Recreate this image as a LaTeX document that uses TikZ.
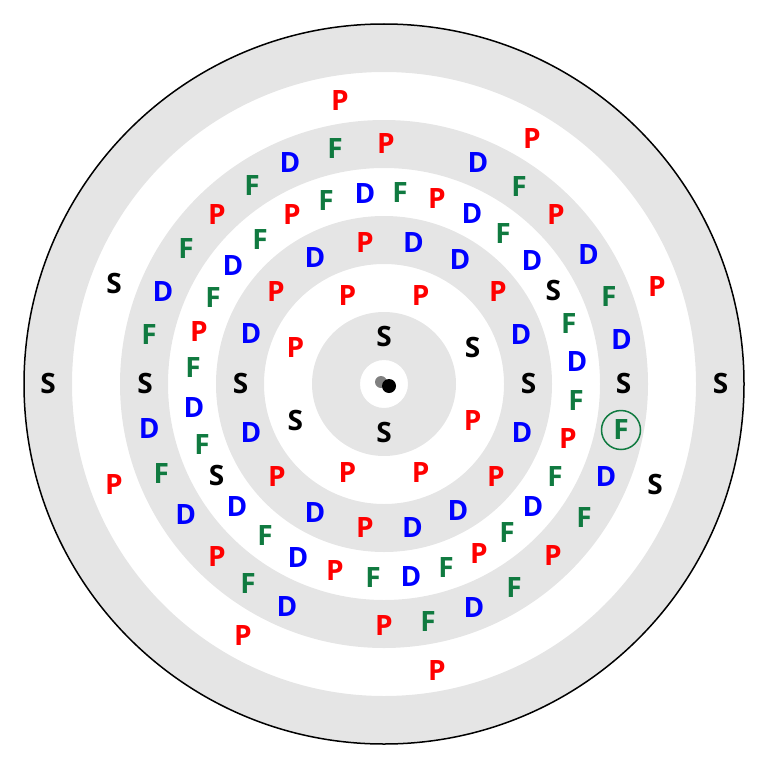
\documentclass[tikz,border=0pt]{standalone}
\usepackage{fontspec}
\setmainfont{Open Sans}
\definecolor{cred}{RGB}{255,0,0}
\definecolor{cblue}{RGB}{0,0,255}
\definecolor{cgreen}{RGB}{16,122,64}
\definecolor{ringgray}{RGB}{229,229,229}
\begin{document}
\begin{tikzpicture}[x=1pt,y=-1pt,
  lt/.style={inner sep=0pt, font=\fontsize{28}{28}\selectfont\bfseries},
  letS/.style={lt, text=black},
  letP/.style={lt, text=cred},
  letD/.style={lt, text=cblue},
  letF/.style={lt, text=cgreen},
  band/.style={fill=ringgray, draw=none, even odd rule}]
\useasboundingbox (0,0) rectangle (768,768);
\coordinate (c) at (384,384);
% bands
\fill[band] (c) circle (360) circle (312);
\fill[band] (c) circle (264) circle (216);
\fill[band] (c) circle (168) circle (120);
\fill[band] (c) circle (72) circle (24);
\draw[line width=1.5pt] (c) circle (360);
% nucleus
\fill[gray] (381,382) circle (6);
\fill[black] (389,386) circle (7);
% shell 1
\foreach \x/\y/\t [count=\i] in {384/336/S,384/432/S}
  \node[let\t] (sa\i) at (\x,\y) {\t};
% shell 2
\foreach \x/\y/\t [count=\i] in {472.7/347.3/S,420.7/295.3/P,347.3/295.3/P,295.3/347.3/P,295.3/420.7/S,347.3/472.7/P,420.7/472.7/P,472.7/420.7/P}
  \node[let\t] (sb\i) at (\x,\y) {\t};
% shell 3
\foreach \x/\y/\t [count=\i] in {528.5/383/S,521/335/D,498/292/P,460/260/D,413.5/242.5/D,365/242.5/P,315/258/D,276/292/P,251/334/D,240.5/383/S,251/433/D,277/477/P,315/512/D,365/527.5/P,412.5/527.5/D,458/510/D,496/477/P,522/433/D}
  \node[let\t] (sc\i) at (\x,\y) {\t};
% shell 4
\foreach \x/\y/\t [count=\i] in {577/362/D,568.8/324/F,553.3/290.3/S,532/261/D,503/234/F,472/214/D,437/199/P,400/193/F,365/194/D,326/201/F,292/215/P,260/240/F,233/266/D,213/298/F,199/332/P,193/368/F,194/408/D,202/444.5/F,216.5/475.5/S,237/506/D,265/535/F,298/557/D,335/570/P,373/577/F,411/576/D,446/567/F,479/553/P,507/532/F,533/506/D,555/476/F,568/439/P,576/401/F}
  \node[let\t] (sd\i) at (\x,\y) {\t};
% shell 5
\foreach \x/\y/\t [count=\i] in {623.5/383/S,621.5/340/D,608.8/296.3/F,588.5/255/D,556/215/P,519/187/F,478/163/D,386/144/P,335/149/F,290/163/D,252/186/F,217/215/P,186/249/F,163/292/D,149/335/F,145/383/S,149.2/428.3/D,161.2/473.7/F,185.8/514.7/D,217/556/P,248/583/F,287/606/D,384/625/P,428/621/F,474/607/D,514/587/F,553/555/P,584/517/F,606/476/D}
  \node[let\t] (se\i) at (\x,\y) {\t};
\node[letF] (fmark) at (621,430) {F};
\draw[cgreen, line width=1.5pt] (fmark.center) circle (19.5);
% shell 6
\foreach \x/\y/\t [count=\i] in {657/287/P,532/139/P,340/100.3/P,114/283/S,114/485/P,243/635/P,437/670/P,655/484/S}
  \node[let\t] (sf\i) at (\x,\y) {\t};
% shell 7
\foreach \x/\y/\t [count=\i] in {720.5/383.5/S,48/383.5/S}
  \node[let\t] (sg\i) at (\x,\y) {\t};
\end{tikzpicture}
\end{document}
